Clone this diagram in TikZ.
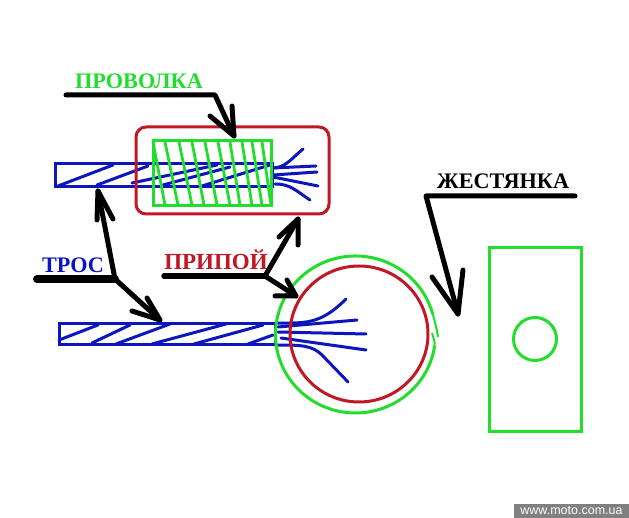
\documentclass[tikz,border=0pt]{standalone}
\usepackage{fontspec}
\setmainfont{Liberation Serif}
\newfontfamily\wmfont{Liberation Sans}
\definecolor{cgreen}{RGB}{34,222,44}
\definecolor{cblue}{RGB}{12,22,190}
\definecolor{cred}{RGB}{192,24,36}
\definecolor{cgray}{RGB}{128,128,128}
\tikzset{
  x=1pt,y=-1pt,
  lbl/.style={font=\bfseries\fontsize{22.2}{24}\selectfont,inner sep=0pt,anchor=center},
  gw/.style={cgreen,line width=2.8pt},
  gt/.style={cgreen,line width=3pt},
  bw/.style={cblue,line width=3pt,line cap=round},
  rw/.style={cred,line width=3pt},
  ar/.style={black,line width=5pt,line cap=round,line join=round},
}
\begin{document}
\begin{tikzpicture}
\useasboundingbox (0,0) rectangle (629,518);
\fill[white] (0,0) rectangle (629,518);
% upper cable
\draw[bw,line cap=butt] (55,164) rectangle (272,187);
\foreach \a/\b/\c/\d in {58/186/113/165, 97/185/148/166, 132/183/217/165, 163/185/230/167, 202/186/270/165}
  \draw[bw] (\a,\b) -- (\c,\d);
% upper strands
\draw[bw] (272,168) .. controls (285,168) and (290,160) .. (303,149);
\draw[bw] (273,168) -- (316,166);
\draw[bw] (273,175) -- (317,172);
\draw[bw] (273,177) -- (318,186);
\draw[bw] (275,184) .. controls (290,184) and (295,190) .. (310,200);
% red box
\draw[rw,rounded corners=10pt] (136,127) rectangle (329,214);
% green coil
\draw[gt] (153,141) rectangle (271,206);
\foreach \a/\b in {153/165, 165/178, 179/192, 192/204, 205/217, 218/230, 230/240, 242/252, 252/262, 262/271}
  \draw[gw] (\a,142) -- (\b,205);
% lower cable
\draw[bw,line cap=butt] (59,324) rectangle (275,345);
\foreach \a/\b/\c/\d in {59/340/98/325, 92/343/130/325, 116/344/170/324, 152/344/226/324, 194/344/263/325, 248/344/273/335}
  \draw[bw] (\a,\b) -- (\c,\d);
% lower strands
\draw[bw] (276,323) .. controls (305,323) and (320,325) .. (346,299);
\draw[bw] (278,327) -- (357,320);
\draw[bw] (278,332) -- (366,334);
\draw[bw] (281,338) -- (366,350);
\draw[bw] (276,345) .. controls (300,345) and (312,345) .. (322,355) -- (348,382);
% circles
\draw[cgreen,line width=3pt] (434.7,345.4) arc[start angle=8,end angle=345,x radius=80,y radius=78.5];
\draw[cgreen,line width=2pt] (432.8,314.2) .. controls (435,322) and (437,330) .. (438,337);
\draw[cgreen,line width=2pt] (432,333) .. controls (433,337) and (435,341) .. (434.7,345.4);
\draw[rw] (359,334) ellipse[x radius=69,y radius=68];
% sheet
\draw[gt] (489.5,248) rectangle (581.5,431.5);
\draw[gt] (535,339) circle[radius=21.5];
% leaders
\coordinate (p1) at (66,95); \coordinate (p2) at (215,95); \coordinate (p3) at (234,136);
\draw[ar] (p1) -- (p2) -- (p3);
\draw[ar] (210,116) -- (p3) -- (232,106);
\coordinate (t0) at (37,279); \coordinate (t1) at (115,279); \coordinate (t2) at (98,191); \coordinate (t3) at (160,320);
\draw[black,line width=8pt,line cap=round] (t0) -- (t1);
\draw[ar] (t1) -- (t2);
\draw[ar] (t1) -- (t3);
\draw[ar] (97,220) -- (t2) -- (113,219);
\draw[ar] (132,311) -- (t3) -- (147,298);
\coordinate (r0) at (164,276); \coordinate (r1) at (265,276); \coordinate (r2) at (298,219); \coordinate (r3) at (296,296);
\draw[ar,line width=5.5pt] (r0) -- (r1);
\draw[ar] (r1) -- (r2);
\draw[ar] (r1) -- (r3);
\draw[ar] (279,237) -- (r2) -- (298,245);
\draw[ar] (275,296) -- (r3) -- (287,280);
\coordinate (j0) at (575,196); \coordinate (j1) at (426,196); \coordinate (j2) at (458,314);
\draw[ar] (j0) -- (j1) -- (j2);
\draw[ar] (432,277) -- (j2) -- (463,270);
% labels
\node[lbl,text=cgreen] (provolka) at (139,81) {ПРОВОЛКА};
\node[lbl,text=cblue] (tros) at (73,265) {ТРОС};
\node[lbl,text=cred,font=\bfseries\fontsize{23}{24}\selectfont] (pripoy) at (216,260) {ПРИПОЙ};
\node[lbl,text=black] (zhest) at (503,181) {ЖЕСТЯНКА};
% watermark
\fill[cgray] (514,504) rectangle (629,518);
\node[font=\wmfont\fontsize{12.5}{12.5}\selectfont,text=white,inner sep=0pt] (wm) at (571.5,511) {www.moto.com.ua};
\end{tikzpicture}
\end{document}
